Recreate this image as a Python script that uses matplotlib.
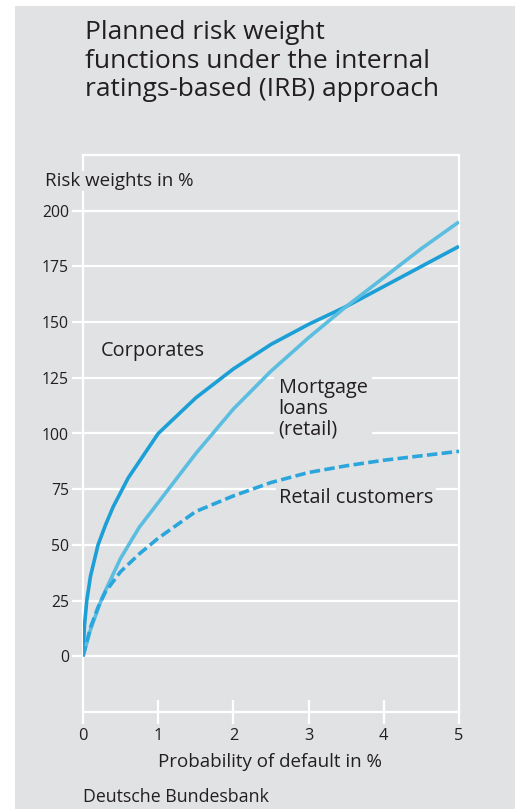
import matplotlib.pyplot as plt
from matplotlib.patches import Rectangle

# risk weight curves (PD in %, RW in %)
corp_pd = [0, 0.02, 0.05, 0.1, 0.2, 0.3, 0.4, 0.6, 0.8, 1.0, 1.5, 2.0, 2.5, 3.0, 3.5, 4.0, 4.5, 5.0]
corp_rw = [0, 14, 25, 36, 50, 59, 67, 80, 90, 100, 116, 129, 140, 149, 157, 166, 175, 184]

mort_pd = [0, 0.1, 0.25, 0.5, 0.75, 1.0, 1.5, 2.0, 2.5, 3.0, 3.5, 4.0, 4.5, 5.0]
mort_rw = [0, 12, 26, 44, 58, 69, 91, 111, 128, 143, 157, 170, 183, 195]

ret_pd = [0, 0.1, 0.2, 0.3, 0.5, 0.75, 1.0, 1.5, 2.0, 2.5, 3.0, 3.5, 4.0, 4.5, 5.0]
ret_rw = [0, 13, 22, 29, 38, 46, 53, 65, 72, 78, 82.5, 85.5, 88, 90, 92]

yticks = [0, 25, 50, 75, 100, 125, 150, 175, 200]
xticks = [0, 1, 2, 3, 4, 5]

bg = '#e1e2e4'
txt = '#231f20'
c_corp = '#1b9fd6'
c_mort = '#5bbee0'
c_ret = '#2ba6dc'

plt.rcParams['font.family'] = ['Open Sans', 'DejaVu Sans']

fig = plt.figure(figsize=(5.15, 8.09), dpi=100)
fig.patch.set_facecolor('white')
fig.add_artist(Rectangle((15/515, 0), 1 - 15/515, 803/809, transform=fig.transFigure,
                         facecolor=bg, edgecolor='none', zorder=0))

ax = fig.add_axes([83/515, 97/809, 376/515, 557/809])
ax.set_facecolor(bg)
ax.set_xlim(0, 5)
ax.set_ylim(-25, 225)

for s in ax.spines.values():
    s.set_color('white')
    s.set_linewidth(1.6)

ax.set_yticks(yticks)
ax.set_xticks(xticks)
ax.yaxis.grid(True, color='white', lw=1.6)
ax.set_axisbelow(True)
ax.tick_params(axis='y', direction='out', length=8, width=1.6, color='white',
               labelsize=11.3, labelcolor=txt, pad=2)
ax.tick_params(axis='x', direction='inout', length=17, width=1.6, color='white',
               labelsize=11.8, labelcolor=txt, pad=3)

ax.plot(corp_pd, corp_rw, color=c_corp, lw=2.6, solid_capstyle='butt', zorder=3)
ax.plot(mort_pd, mort_rw, color=c_mort, lw=2.6, solid_capstyle='butt', zorder=3)
ax.plot(ret_pd, ret_rw, color=c_ret, lw=2.6, linestyle=(0, (2.9, 1.2)), zorder=3)

ax.text(0.24, 137, 'Corporates', fontsize=14.3, color=txt, va='center', ha='left')
ax.text(2.6, 111, 'Mortgage\nloans\n(retail)', fontsize=14.3, color=txt, va='center', ha='left',
        linespacing=1.05, bbox=dict(facecolor=bg, edgecolor='none', pad=3), zorder=4)
ax.text(2.6, 71, 'Retail customers', fontsize=14.3, color=txt, va='center', ha='left',
        bbox=dict(facecolor=bg, edgecolor='none', pad=2), zorder=4)

fig.text(85/515, 1 - 61/809, 'Planned risk weight\nfunctions under the internal\nratings-based (IRB) approach',
         fontsize=19, color=txt, ha='left', va='center', linespacing=1.17)
fig.text(45/515, 1 - 181/809, 'Risk weights in %', fontsize=13.5, color=txt, ha='left', va='center',
         bbox=dict(facecolor=bg, edgecolor='none', pad=1))
fig.text(270/515, 1 - 762/809, 'Probability of default in %', fontsize=13.5, color=txt,
         ha='center', va='center')
fig.text(83/515, 1 - 797/809, 'Deutsche Bundesbank', fontsize=12.8, color=txt, ha='left', va='center')

plt.savefig('out.png', dpi=100, facecolor=fig.get_facecolor())
